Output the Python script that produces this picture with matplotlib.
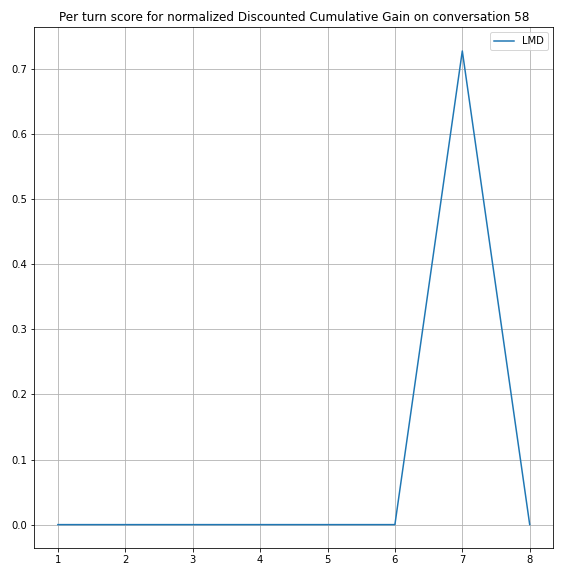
import matplotlib
matplotlib.use("Agg")
import matplotlib.pyplot as plt

turns = [1, 2, 3, 4, 5, 6, 7, 8]
lmd_scores = [0.0, 0.0, 0.0, 0.0, 0.0, 0.0, 0.7276, 0.0]
title = "Per turn score for normalized Discounted Cumulative Gain on conversation 58"

fig, ax = plt.subplots(figsize=(8, 8), dpi=72)
fig.patch.set_facecolor("white")
ax.plot(turns, lmd_scores, label="LMD", color="#1f77b4")
ax.set_title(title)
ax.grid(True)
ax.legend(loc="upper right")
fig.subplots_adjust(left=34.3 / 576, right=553.3 / 576, top=1 - 27.3 / 576, bottom=1 - 548.3 / 576)
fig.savefig("out.png", dpi=72, facecolor="white")
